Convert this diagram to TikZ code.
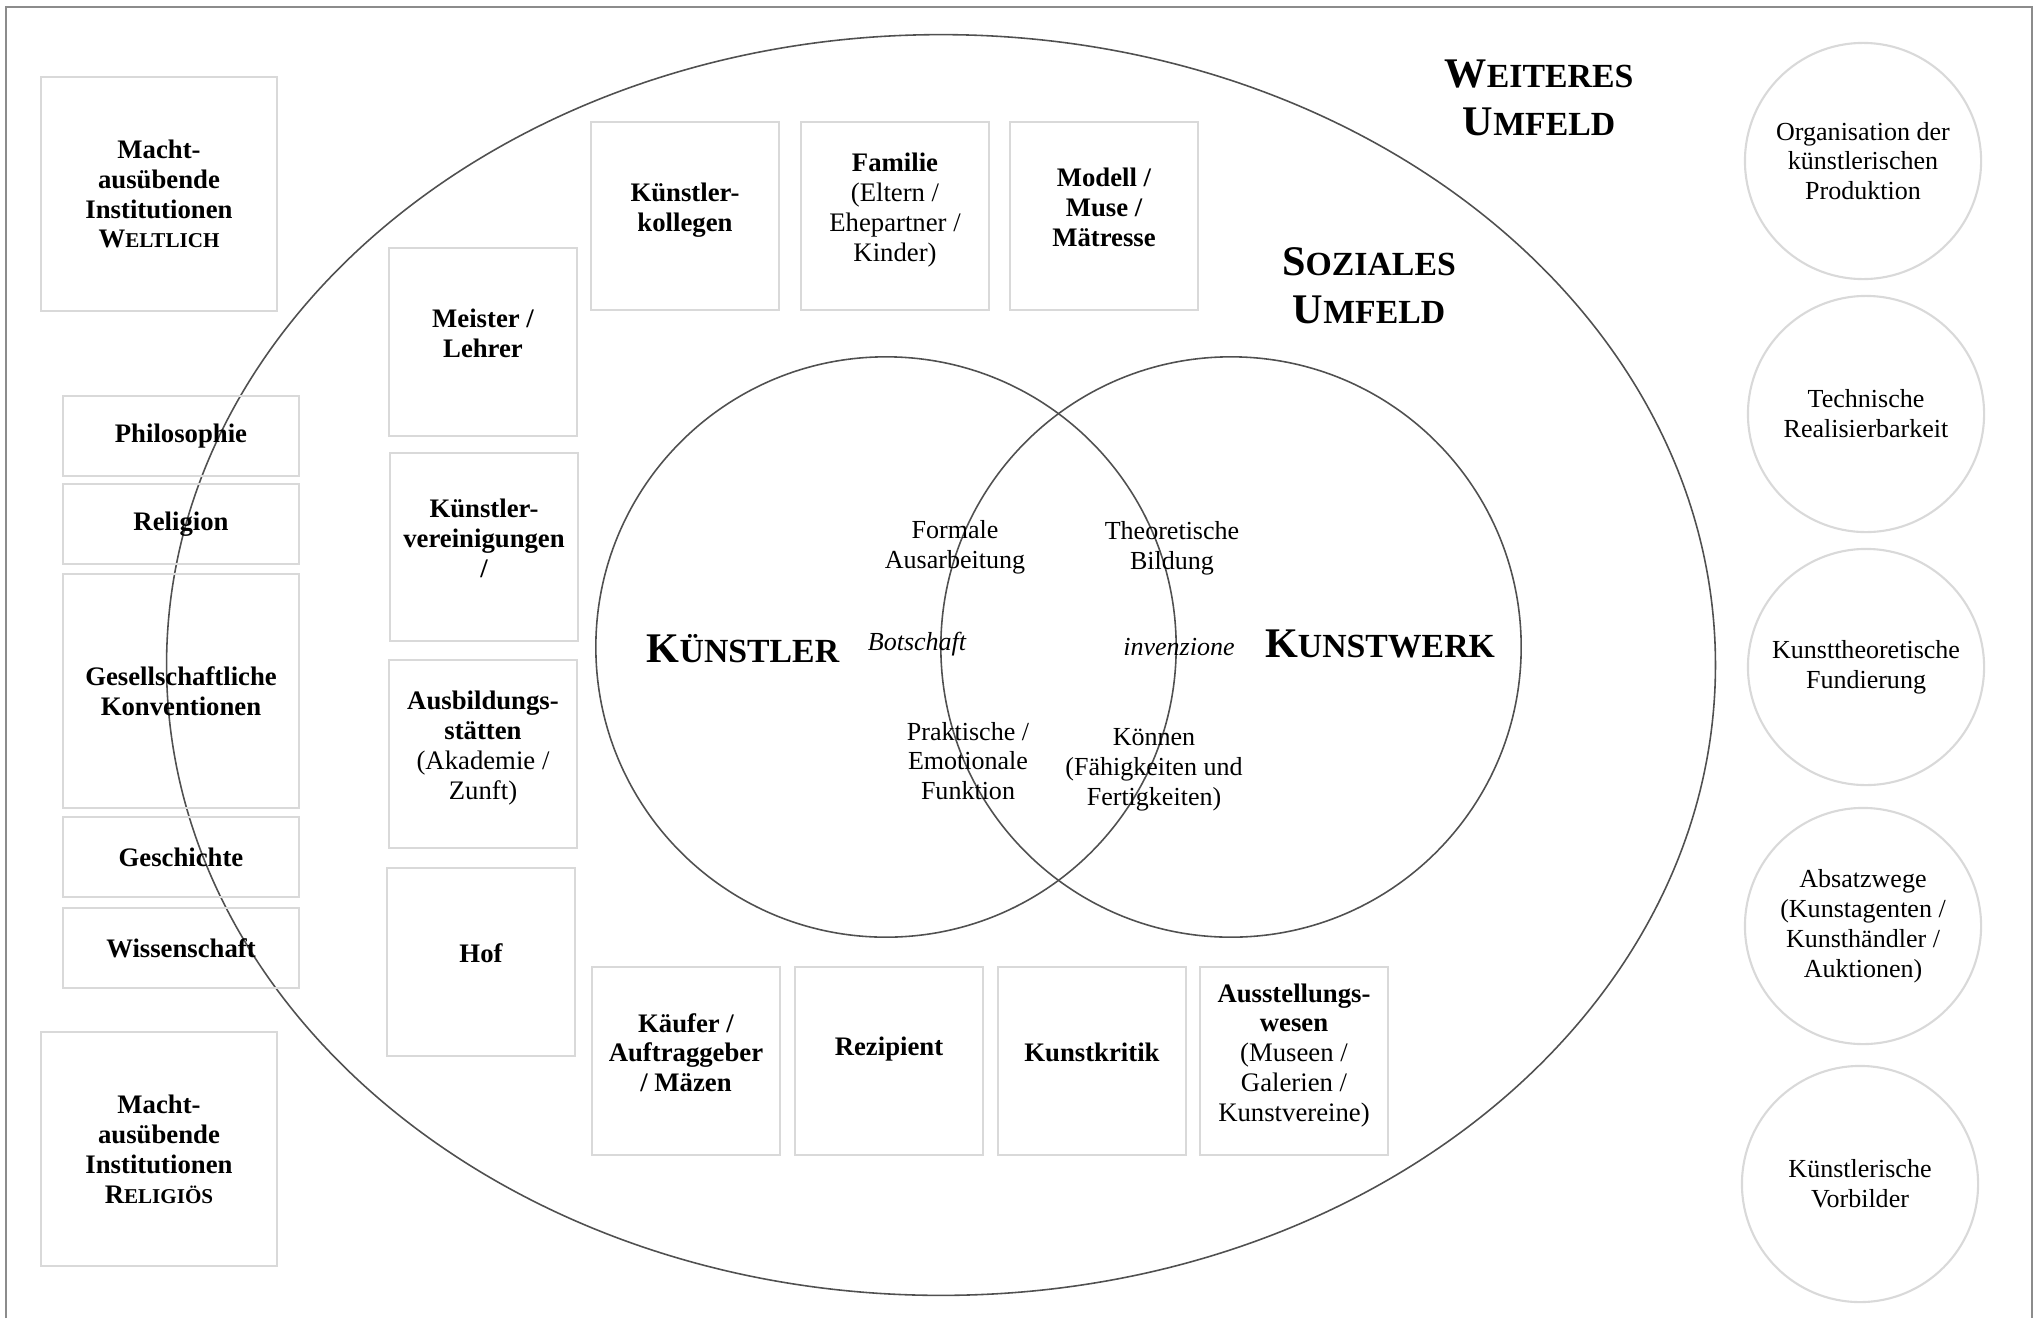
\documentclass[tikz,border=0pt]{standalone}
\usepackage{fontspec}
\setmainfont{Liberation Serif}

\definecolor{rahmen}{HTML}{8C8C8C}
\definecolor{kasten}{HTML}{D9D9D9}
\definecolor{linie}{HTML}{505050}

% Kapitaelchen von Hand
\newcommand{\grosskap}[2]{{\fontsize{12}{13.7}\selectfont #1}{\fontsize{9.6}{13.7}\selectfont #2}}
\newcommand{\kleinkap}[2]{#1{\fontsize{6}{8.5}\selectfont #2}}

\tikzset{
  feld/.style={draw=kasten, line width=0.6pt, minimum width=1.88cm, minimum height=1.88cm,
    inner sep=1pt, text depth=0.17cm, align=center, font=\fontsize{7.6}{8.5}\selectfont\bfseries},
  leiste/.style={feld, text depth=, minimum width=2.35cm, minimum height=0.8cm},
  hochfeld/.style={feld, text depth=, minimum width=2.35cm, minimum height=2.34cm},
  kreis/.style={circle, draw=kasten, line width=0.6pt, minimum size=2.36cm, inner sep=0pt,
    align=center, font=\fontsize{7.4}{8.5}\selectfont},
  venn/.style={circle, draw=linie, line width=0.45pt, minimum size=5.8cm, inner sep=0pt},
  titel/.style={inner sep=0pt, align=center, font=\fontsize{12}{13.7}\selectfont\bfseries},
  notiz/.style={inner sep=0pt, align=center, font=\fontsize{7.4}{8.5}\selectfont}
}

\begin{document}
\begin{tikzpicture}[x=0.01cm, y=-0.01cm]
\useasboundingbox (0,0) rectangle (2040,1318);
\draw[rahmen, line width=0.6pt] (6,1318) -- (6,7) -- (2032,7) -- (2032,1318);

% soziales Umfeld
\draw[linie, line width=0.45pt] (941,665) ellipse [x radius=7.74cm, y radius=6.3cm];

\node[titel] (weiteres) at (1539,98) {\grosskap{W}{EITERES}\\\grosskap{U}{MFELD}};
\node[titel] (soziales) at (1369,286) {\grosskap{S}{OZIALES}\\\grosskap{U}{MFELD}};

% linke Spalte
\node[hochfeld] (weltlich) at (159,194) {Macht-\\ausübende\\Institutionen\\\kleinkap{W}{ELTLICH}};
\node[leiste] (philosophie) at (181,436) {Philosophie};
\node[leiste] (religion) at (181,524) {Religion};
\node[hochfeld] (konventionen) at (181,691) {Gesellschaftliche\\Konventionen};
\node[leiste] (geschichte) at (181,857) {Geschichte};
\node[leiste] (wissenschaft) at (181,948) {Wissenschaft};
\node[hochfeld] (religioes) at (159,1149) {Macht-\\ausübende\\Institutionen\\\kleinkap{R}{ELIGIÖS}};

% innere Spalte
\node[feld] (meister) at (483,342) {Meister /\\Lehrer};
\node[feld] (vereinigungen) at (484,547) {Künstler-\\vereinigungen\\/};
\node[feld] (ausbildung) at (483,754) {Ausbildungs-\\stätten\\{\mdseries (Akademie /}\\{\mdseries Zunft)}};
\node[feld] (hof) at (481,962) {Hof};

% obere Reihe
\node[feld] (kollegen) at (685,216) {Künstler-\\kollegen};
\node[feld] (familie) at (895,216) {Familie\\{\mdseries (Eltern /}\\{\mdseries Ehepartner /}\\{\mdseries Kinder)}};
\node[feld] (modell) at (1104,216) {Modell /\\Muse /\\Mätresse};

% untere Reihe
\node[feld] (kaeufer) at (686,1061) {Käufer /\\Auftraggeber\\/ Mäzen};
\node[feld, text depth=0.3cm] (rezipient) at (889,1061) {Rezipient};
\node[feld] (kritik) at (1092,1061) {Kunstkritik};
\node[feld] (ausstellung) at (1294,1061) {Ausstellungs-\\wesen\\{\mdseries (Museen /}\\{\mdseries Galerien /}\\{\mdseries Kunstvereine)}};

% Venn
\node[venn] (kreiskuenstler) at (886,647) {};
\node[venn] (kreiswerk) at (1231,647) {};

\node[titel] (kuenstler) at (743,649) {\grosskap{K}{ÜNSTLER}};
\node[titel] (kunstwerk) at (1380,644) {\grosskap{K}{UNSTWERK}};
\node[notiz] (botschaft) at (917,644) {\itshape Botschaft};
\node[notiz] (invenzione) at (1179,647) {\itshape invenzione};
\node[notiz] (formal) at (955,547) {Formale\\Ausarbeitung};
\node[notiz] (theorie) at (1172,548) {Theoretische\\Bildung};
\node[notiz] (praxis) at (968,761) {Praktische /\\Emotionale\\Funktion};
\node[notiz] (koennen) at (1154,770) {Können\\(Fähigkeiten und\\Fertigkeiten)};

% rechte Spalte
\node[kreis] (organisation) at (1863,161) {Organisation der\\künstlerischen\\Produktion};
\node[kreis] (technik) at (1866,414) {Technische\\Realisierbarkeit};
\node[kreis] (fundierung) at (1866,667) {Kunsttheoretische\\Fundierung};
\node[kreis] (absatz) at (1863,926) {Absatzwege\\(Kunstagenten /\\Kunsthändler /\\Auktionen)};
\node[kreis] (vorbilder) at (1860,1184) {Künstlerische\\Vorbilder};
\end{tikzpicture}
\end{document}
